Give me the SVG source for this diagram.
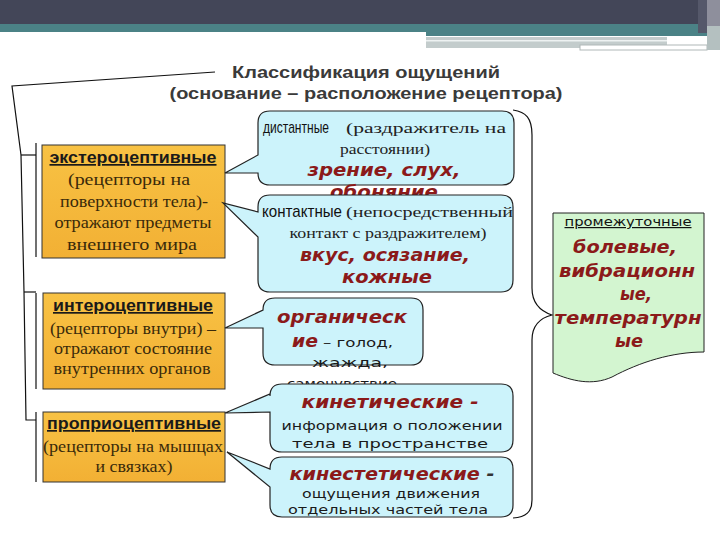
<svg xmlns="http://www.w3.org/2000/svg" width="720" height="540" viewBox="0 0 720 540">
<defs>
<style>
.ttl{font-family:"Liberation Sans",Arial,sans-serif;font-weight:bold;font-size:17px;fill:#3a3a3a;text-anchor:middle}
.hd{font-family:"Liberation Sans",Arial,sans-serif;font-weight:bold;font-size:17px;fill:#1a1a1a;text-decoration:underline;text-anchor:middle}
.sr{font-family:"Liberation Serif","Times New Roman",serif;font-size:16px;fill:#3a2a0a;text-anchor:middle}
.cr{font-family:"Liberation Serif","Times New Roman",serif;font-size:15px;fill:#222}
.cs{font-family:"Liberation Sans",Arial,sans-serif;font-size:17px;fill:#111}
.rd{font-family:"DejaVu Sans",Verdana,sans-serif;font-weight:bold;font-style:italic;font-size:17px;fill:#8b1a1a;text-anchor:middle}
.rg{font-family:"DejaVu Sans",Verdana,sans-serif;font-weight:bold;font-style:italic;font-size:18px;fill:#8b1a1a;text-anchor:middle}
.sn{font-family:"DejaVu Sans",Verdana,sans-serif;font-size:13px;fill:#1a1a1a;text-anchor:middle}
.gh{font-family:"DejaVu Sans",Verdana,sans-serif;font-size:12px;fill:#111;text-decoration:underline;text-anchor:middle}
.box{fill:url(#og);stroke:#333;stroke-width:1}
.cl{fill:#ccf3fb;stroke:#222;stroke-width:1.2}
.ln{fill:none;stroke:#111;stroke-width:1.2}
</style>
<linearGradient id="og" x1="0" y1="0" x2="0" y2="1">
<stop offset="0" stop-color="#f8c244"/>
<stop offset="1" stop-color="#f2b034"/>
</linearGradient>
</defs>
<rect width="720" height="540" fill="#fff"/>
<g id="header">
<rect x="0" y="0" width="720" height="24" fill="#434658"/>
<rect x="0" y="24" width="720" height="8" fill="#4b8286"/>
<rect x="426" y="32" width="281" height="4" fill="#4b8286"/>
<rect x="426" y="37" width="241" height="11" fill="#c3cccc"/>
<rect x="426" y="40" width="241" height="1.5" fill="#eef2f2"/>
<rect x="580" y="45" width="127" height="5" fill="#fff" stroke="#b0b8b8" stroke-width="1"/>
<rect x="698" y="0" width="9" height="33" fill="#55586a"/>
<rect x="707" y="0" width="13" height="26" fill="#8e8f9c"/>
<rect x="707" y="26" width="13" height="24" fill="#b4c0c0"/>
</g>
<g id="title">
<text class="ttl" x="366" y="78" textLength="268" lengthAdjust="spacingAndGlyphs">Классификация ощущений</text>
<text class="ttl" x="366" y="99" textLength="393" lengthAdjust="spacingAndGlyphs">(основание – расположение рецептора)</text>
</g>
<g id="connectors">
<polyline class="ln" points="215,72 12,86 21,155 24,292 26,420 36,420"/>
<line class="ln" x1="21" y1="155" x2="36" y2="155"/>
<line class="ln" x1="24" y1="292" x2="36" y2="292"/>
<line class="ln" x1="36" y1="143" x2="36" y2="257"/>
<line class="ln" x1="36" y1="293" x2="36" y2="389"/>
<line class="ln" x1="36" y1="412" x2="36" y2="482"/>
<path class="ln" d="M513,110 C526,112 532,118 532,135 V288 C532,303 540,311 552,315 C540,318 532,326 532,340 V500 C532,512 526,517 513,518"/>
</g>
<g id="extero">
<rect class="box" x="42" y="145" width="183" height="113"/>
<text class="hd" x="133" y="163" textLength="167" lengthAdjust="spacingAndGlyphs">экстероцептивные</text>
<text class="sr" x="129" y="185" textLength="122" lengthAdjust="spacingAndGlyphs">(рецепторы на</text>
<text class="sr" x="134" y="207" textLength="148" lengthAdjust="spacingAndGlyphs">поверхности тела)-</text>
<text class="sr" x="133" y="228" textLength="157" lengthAdjust="spacingAndGlyphs">отражают предметы</text>
<text class="sr" x="132" y="250" textLength="130" lengthAdjust="spacingAndGlyphs">внешнего мира</text>
</g>
<g id="intero">
<rect class="box" x="43" y="293" width="182" height="96"/>
<text class="hd" x="133" y="311" textLength="160" lengthAdjust="spacingAndGlyphs">интероцептивные</text>
<text class="sr" x="133" y="334" textLength="166" lengthAdjust="spacingAndGlyphs">(рецепторы внутри) –</text>
<text class="sr" x="133" y="354" textLength="158" lengthAdjust="spacingAndGlyphs">отражают состояние</text>
<text class="sr" x="132" y="374" textLength="157" lengthAdjust="spacingAndGlyphs">внутренних органов</text>
</g>
<g id="proprio">
<rect class="box" x="43" y="412" width="182" height="70"/>
<text class="hd" x="134" y="429" textLength="174" lengthAdjust="spacingAndGlyphs">проприоцептивные</text>
<text class="sr" x="133" y="452" textLength="180" lengthAdjust="spacingAndGlyphs">(рецепторы на мышцах</text>
<text class="sr" x="134" y="472" textLength="77" lengthAdjust="spacingAndGlyphs">и связках)</text>
</g>
<g id="distant">
<path class="cl" d="M270,111 H502 Q514,111 514,123 V173 Q514,185 502,185 H270 Q258,185 258,173 L225,173 L258,155 V123 Q258,111 270,111 Z"/>
<text class="cs" x="263" y="133" textLength="66" lengthAdjust="spacingAndGlyphs">дистантные</text>
<text class="cr" x="346" y="133" textLength="160" lengthAdjust="spacingAndGlyphs">(раздражитель на</text>
<text class="cr" x="385" y="154" text-anchor="middle" textLength="90" lengthAdjust="spacingAndGlyphs">расстоянии)</text>
<text class="rd" x="384" y="176" textLength="153" lengthAdjust="spacingAndGlyphs">зрение, слух,</text>
<text class="rd" x="384" y="198" textLength="108" lengthAdjust="spacingAndGlyphs">обоняние</text>
</g>
<g id="contact">
<path class="cl" d="M270,195 H501 Q513,195 513,207 V280 Q513,292 501,292 H270 Q258,292 258,280 V237 L223,203 L258,212 V207 Q258,195 270,195 Z"/>
<text class="cs" x="262" y="217" textLength="80" lengthAdjust="spacingAndGlyphs">контактные</text>
<text class="cr" x="346" y="217" textLength="167" lengthAdjust="spacingAndGlyphs">(непосредственный</text>
<text class="cr" x="388" y="238" text-anchor="middle" textLength="197" lengthAdjust="spacingAndGlyphs">контакт с раздражителем)</text>
<text class="rd" x="385" y="261" textLength="170" lengthAdjust="spacingAndGlyphs">вкус, осязание,</text>
<text class="rd" x="387" y="283" textLength="90" lengthAdjust="spacingAndGlyphs">кожные</text>
</g>
<g id="organic">
<path class="cl" d="M275,298 H411 Q423,298 423,310 V353 Q423,365 411,365 H275 Q263,365 263,353 V328 L225,328 L263,310 Q263,298 275,298 Z"/>
<text class="rd" x="342" y="323" textLength="130" lengthAdjust="spacingAndGlyphs">органическ</text>
<text class="rd" x="305" y="347" textLength="26" lengthAdjust="spacingAndGlyphs">ие</text>
<text class="sn" x="323" y="347" style="text-anchor:start" textLength="70" lengthAdjust="spacingAndGlyphs">– голод,</text>
<text class="sn" x="350" y="367" textLength="76" lengthAdjust="spacingAndGlyphs">жажда,</text>
<text class="sn" x="342" y="388" textLength="110" lengthAdjust="spacingAndGlyphs">самочувствие</text>
</g>
<g id="kinetic">
<path class="cl" d="M282,384 H501 Q513,384 513,396 V440 Q513,452 501,452 H282 Q270,452 270,440 V412 L225,413 L270,394 V396 Q270,384 282,384 Z"/>
<text class="rd" x="390" y="408" textLength="177" lengthAdjust="spacingAndGlyphs">кинетические -</text>
<text class="sn" x="392" y="430" textLength="221" lengthAdjust="spacingAndGlyphs">информация о положении</text>
<text class="sn" x="390" y="448" textLength="196" lengthAdjust="spacingAndGlyphs">тела в пространстве</text>
</g>
<g id="kinesthetic">
<path class="cl" d="M282,457 H501 Q513,457 513,469 V505 Q513,517 501,517 H282 Q270,517 270,505 V487 L227,452 L270,469 Q270,457 282,457 Z"/>
<text class="rd" x="392" y="480" textLength="205" lengthAdjust="spacingAndGlyphs">кинестетические <tspan fill="#333">-</tspan></text>
<text class="sn" x="391" y="498" textLength="178" lengthAdjust="spacingAndGlyphs">ощущения движения</text>
<text class="sn" x="388" y="514" textLength="200" lengthAdjust="spacingAndGlyphs">отдельных частей тела</text>
</g>
<g id="intermediate">
<path d="M553,213 H704 V352 C672,352 640,362 612,377 C592,386 572,381 553,373 Z" fill="#d3f5d0" stroke="#222" stroke-width="1"/>
<text class="gh" x="628" y="226" textLength="127" lengthAdjust="spacingAndGlyphs">промежуточные</text>
<text class="rg" x="625" y="253" textLength="104" lengthAdjust="spacingAndGlyphs">болевые,</text>
<text class="rg" x="627" y="277" textLength="136" lengthAdjust="spacingAndGlyphs">вибрационн</text>
<text class="rg" x="636" y="300" textLength="32" lengthAdjust="spacingAndGlyphs">ые,</text>
<text class="rg" x="628" y="324" textLength="147" lengthAdjust="spacingAndGlyphs">температурн</text>
<text class="rg" x="629" y="347" textLength="28" lengthAdjust="spacingAndGlyphs">ые</text>
</g>
</svg>
